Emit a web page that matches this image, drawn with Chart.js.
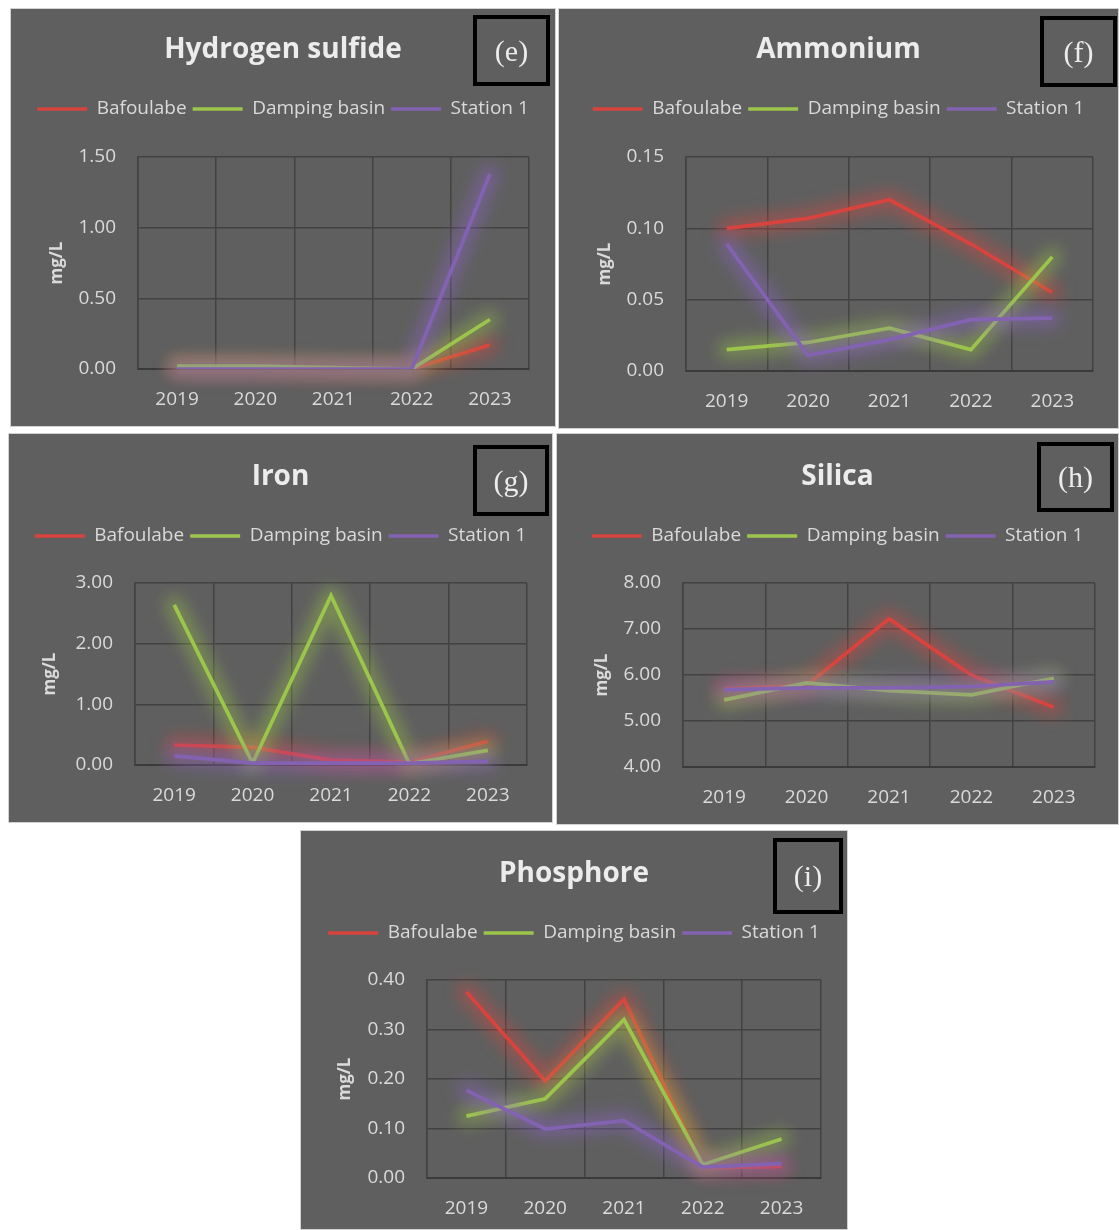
<!DOCTYPE html>
<html>
<head>
<meta charset="utf-8">
<script src="https://cdn.jsdelivr.net/npm/chart.js@4.4.1/dist/chart.umd.min.js"></script>
<style>
  body { margin: 0; background: #fff; width: 1119px; height: 1230px; position: relative; overflow: hidden; }
  .panel { position: absolute; background: #5f5f5f; box-shadow: inset 0 0 0 1px #d2d2d2; }
  .panel canvas { position: absolute; left: 0; top: 0; }
  .tag { position: absolute; box-sizing: border-box; border: 4px solid #000; color: #ececec;
         font: 30px "Liberation Serif", "DejaVu Serif", serif; display: flex; align-items: center; justify-content: center; }
</style>
</head>
<body>
<script>
const years = ['2019', '2020', '2021', '2022', '2023'];
const stations = ['Bafoulabe', 'Damping basin', 'Station 1'];

// Hydrogen sulfide (mg/L)
const h2sBafoulabe = [0.01, 0.01, 0.00, 0.00, 0.17];
const h2sDamping   = [0.02, 0.02, 0.01, 0.00, 0.35];
const h2sStation1  = [0.00, 0.00, 0.00, 0.00, 1.38];

// Ammonium (mg/L)
const nh4Bafoulabe = [0.100, 0.107, 0.120, 0.089, 0.055];
const nh4Damping   = [0.015, 0.020, 0.030, 0.015, 0.080];
const nh4Station1  = [0.089, 0.011, 0.022, 0.036, 0.037];

// Iron (mg/L)
const feBafoulabe = [0.33, 0.29, 0.08, 0.05, 0.39];
const feDamping   = [2.64, 0.03, 2.79, 0.02, 0.24];
const feStation1  = [0.15, 0.03, 0.03, 0.03, 0.06];

// Silica (mg/L)
const siBafoulabe = [5.70, 5.78, 7.22, 6.00, 5.30];
const siDamping   = [5.46, 5.83, 5.66, 5.57, 5.93];
const siStation1  = [5.68, 5.72, 5.72, 5.75, 5.85];

// Phosphore (mg/L)
const pBafoulabe = [0.376, 0.196, 0.361, 0.021, 0.023];
const pDamping   = [0.125, 0.160, 0.320, 0.027, 0.079];
const pStation1  = [0.177, 0.099, 0.116, 0.022, 0.029];

const lineColors = ['#d8433e', '#9cc54c', '#8462b2'];
const glowColors = ['rgba(230,70,60,0.42)', 'rgba(160,205,70,0.42)', 'rgba(140,100,200,0.48)'];
const textColor = '#dadada';
const uiFont = '"Open Sans", Lato, sans-serif';

// panel layout, in page pixels
const panels = [
  { tag: 'e', title: 'Hydrogen sulfide', series: [h2sBafoulabe, h2sDamping, h2sStation1], min: 0, max: 1.5, step: 0.5,
    x: 10, y: 8, w: 546, h: 419, plot: [138, 157, 529, 369], titleY: 48, legendY: 107, tickY: 398, axisTitleX: 57, box: [473, 15, 77, 71] },
  { tag: 'f', title: 'Ammonium', series: [nh4Bafoulabe, nh4Damping, nh4Station1], min: 0, max: 0.15, step: 0.05,
    x: 558, y: 8, w: 561, h: 421, plot: [686, 157, 1093, 371], titleY: 48, legendY: 107, tickY: 400, axisTitleX: 605, box: [1040, 16, 77, 71] },
  { tag: 'g', title: 'Iron', series: [feBafoulabe, feDamping, feStation1], min: 0, max: 3, step: 1,
    x: 8, y: 433, w: 545, h: 390, plot: [135, 583, 527, 765], titleY: 475, legendY: 534, tickY: 794, axisTitleX: 50, box: [473, 445, 76, 71] },
  { tag: 'h', title: 'Silica', series: [siBafoulabe, siDamping, siStation1], min: 4, max: 8, step: 1,
    x: 556, y: 433, w: 563, h: 392, plot: [683, 583, 1095, 767], titleY: 475, legendY: 534, tickY: 796, axisTitleX: 602, box: [1037, 442, 77, 70] },
  { tag: 'i', title: 'Phosphore', series: [pBafoulabe, pDamping, pStation1], min: 0, max: 0.4, step: 0.1,
    x: 300, y: 830, w: 548, h: 400, plot: [427, 980, 821, 1178], titleY: 872, legendY: 931, tickY: 1207, axisTitleX: 345, box: [773, 838, 70, 76] }
];

// soft blurred halo under each line (Excel "glow" effect), following the points the library placed
const glowPlugin = {
  id: 'glow',
  beforeDatasetDraw(chart, args) {
    const pts = args.meta.data;
    const ctx = chart.ctx;
    ctx.save();
    ctx.filter = 'blur(8px)';
    ctx.strokeStyle = glowColors[args.index];
    ctx.lineWidth = 18;
    ctx.lineJoin = 'round';
    ctx.lineCap = 'round';
    ctx.beginPath();
    pts.forEach((pt, i) => (i ? ctx.lineTo(pt.x, pt.y) : ctx.moveTo(pt.x, pt.y)));
    ctx.stroke();
    ctx.restore();
  }
};

function buildPanel(p) {
  const div = document.createElement('div');
  div.className = 'panel';
  Object.assign(div.style, { left: p.x + 'px', top: p.y + 'px', width: p.w + 'px', height: p.h + 'px' });
  const canvas = document.createElement('canvas');
  canvas.width = p.w;
  canvas.height = p.h;
  div.appendChild(canvas);
  const tag = document.createElement('div');
  tag.className = 'tag';
  tag.textContent = '(' + p.tag + ')';
  Object.assign(tag.style, {
    left: (p.box[0] - p.x) + 'px', top: (p.box[1] - p.y) + 'px',
    width: p.box[2] + 'px', height: p.box[3] + 'px'
  });
  div.appendChild(tag);
  document.body.appendChild(div);

  const titleSize = 28, legendSize = 19;
  const side = p.x + p.w - p.plot[2];
  const plotL = p.plot[0] - p.x;
  const plotT = p.plot[1] - p.y;
  const plotB = p.plot[3] - p.y;
  const tY = p.titleY - p.y;
  const lY = p.legendY - p.y;
  const legendPad = 6;
  const titleTop = tY - titleSize * 0.6 + 2;
  const titleBottom = lY - legendPad - legendSize / 2 - tY - titleSize * 0.6;
  const gap = plotT - (lY + legendSize / 2 + 10) - 1.2 - 2;
  const axisTitlePad = (p.axisTitleX - p.x) - 10.2;

  new Chart(canvas, {
    type: 'line',
    data: {
      labels: years,
      datasets: p.series.map((vals, i) => ({
        label: stations[i],
        data: vals,
        borderColor: lineColors[i],
        backgroundColor: lineColors[i],
        borderWidth: 3.7,
        pointRadius: 0,
        tension: 0,
        order: 3 - i
      }))
    },
    options: {
      responsive: false,
      animation: false,
      layout: { padding: 0 },
      plugins: {
        title: {
          display: true, text: p.title, color: '#ececec',
          font: { family: uiFont, size: titleSize, weight: 'bold' },
          padding: { top: titleTop, bottom: titleBottom }
        },
        subtitle: {
          display: true, text: '', weight: 500,
          font: { size: 1 }, padding: { top: 0, bottom: gap }
        },
        legend: {
          position: 'top',
          labels: {
            color: textColor, font: { family: uiFont, size: legendSize },
            usePointStyle: true, pointStyle: 'line', pointStyleWidth: 50,
            padding: legendPad,
            sort: (a, b) => a.datasetIndex - b.datasetIndex
          }
        },
        tooltip: { enabled: false }
      },
      scales: {
        x: {
          offset: true,
          grid: { offset: true, color: '#424242', lineWidth: 1.5, drawTicks: false },
          border: { color: '#3a3a3a', width: 2 },
          ticks: { color: textColor, font: { family: uiFont, size: 19 }, padding: (p.tickY - p.y) - plotB - 10 },
          afterFit: s => { s.height = p.h - plotB; }
        },
        y: {
          min: p.min, max: p.max,
          grid: { color: '#424242', lineWidth: 1.5, drawTicks: false },
          border: { color: '#424242', width: 1.5 },
          ticks: {
            stepSize: p.step, color: textColor, font: { family: uiFont, size: 19 }, padding: 22,
            callback: v => Number(v).toFixed(2)
          },
          title: {
            display: true, text: 'mg/L', color: textColor,
            font: { family: uiFont, size: 17, weight: 'bold' },
            padding: { top: axisTitlePad, bottom: 0 }
          },
          afterFit: s => { s.width = plotL; }
        },
        // empty axis that only keeps the right margin of the plot
        yRight: {
          position: 'right',
          display: true,
          grid: { display: false },
          border: { display: false },
          ticks: { display: false },
          afterFit: s => { s.width = side; }
        }
      }
    },
    plugins: [glowPlugin]
  });
}

panels.forEach(buildPanel);
</script>
</body>
</html>
